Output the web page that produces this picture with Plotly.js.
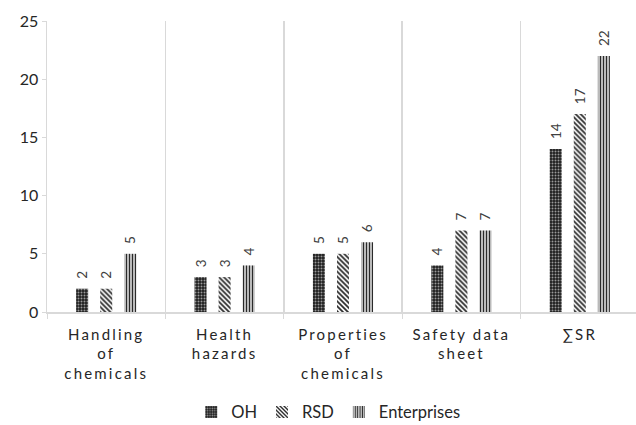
<!DOCTYPE html>
<html><head><meta charset="utf-8">
<script src="https://cdn.plot.ly/plotly-3.0.1.min.js"></script>
<style>
html,body{margin:0;padding:0;overflow:hidden;background:#fff;}
.xtick text{letter-spacing:2.2px;}
</style>
</head><body>
<div id="chart" style="width:640px;height:425px;"></div>
<script>
const categories = ["Handling<br>of<br>chemicals", "Health<br>hazards", "Properties<br>of<br>chemicals", "Safety data<br>sheet", "∑SR"];
const OH = [2, 3, 5, 4, 14];
const RSD = [2, 3, 5, 7, 17];
const Enterprises = [5, 4, 6, 7, 22];

const labelFont = {family: "Lato, 'Open Sans', sans-serif", size: 13.5, color: "#404040"};
function mk(name, vals, pattern) {
  return {
    type: "bar", name: name, x: categories, y: vals,
    text: vals.map(v => "\u00a0\u00a0" + v),
    textposition: "outside", textangle: -90, cliponaxis: false,
    constraintext: "none",
    textfont: labelFont,
    marker: {color: pattern.bgcolor, line: {width: 0}, pattern: pattern},
    hoverinfo: "skip"
  };
}
const data = [
  mk("OH", OH, {shape: ".", fgcolor: "#9a9a9a", bgcolor: "#1e1e1e", size: 3, solidity: 0.35, fillmode: "replace"}),
  mk("RSD", RSD, {shape: "\\", fgcolor: "#2a2a2a", bgcolor: "#ffffff", size: 3.5, solidity: 0.5, fillmode: "replace"}),
  mk("Enterprises", Enterprises, {shape: "|", fgcolor: "#2a2a2a", bgcolor: "#ffffff", size: 3, solidity: 0.55, fillmode: "replace"})
];
const layout = {
  width: 640, height: 425,
  margin: {l: 47, r: 1, t: 21, b: 113, autoexpand: false},
  paper_bgcolor: "#fff", plot_bgcolor: "#fff",
  font: {family: "Lato, 'Open Sans', sans-serif", color: "#404040"},
  barmode: "group", bargap: 0.39, bargroupgap: 0.5,
  showlegend: true,
  legend: {orientation: "h", x: 0.475, xanchor: "center", yref: "container", y: 0.03, yanchor: "middle",
           font: {size: 16.5, color: "#262626"}, itemwidth: 30},
  xaxis: {
    tickson: "boundaries", showgrid: true, gridcolor: "#d9d9d9", gridwidth: 1.5,
    ticks: "outside", ticklen: 5, tickcolor: "#d9d9d9",
    showline: true, linecolor: "#d9d9d9", linewidth: 1.5,
    ticklabelstandoff: 8,
    tickfont: {size: 15, color: "#262626"}, tickangle: 0, automargin: false
  },
  yaxis: {
    range: [0, 25], dtick: 5, showgrid: false, zeroline: false,
    showline: true, linecolor: "#d9d9d9", linewidth: 1.5,
    ticks: "outside", ticklen: 4, tickcolor: "#d9d9d9",
    tickfont: {size: 16, color: "#262626"}, automargin: false
  }
};
Plotly.newPlot("chart", data, layout, {displayModeBar: false, staticPlot: true});
</script>
</body></html>
